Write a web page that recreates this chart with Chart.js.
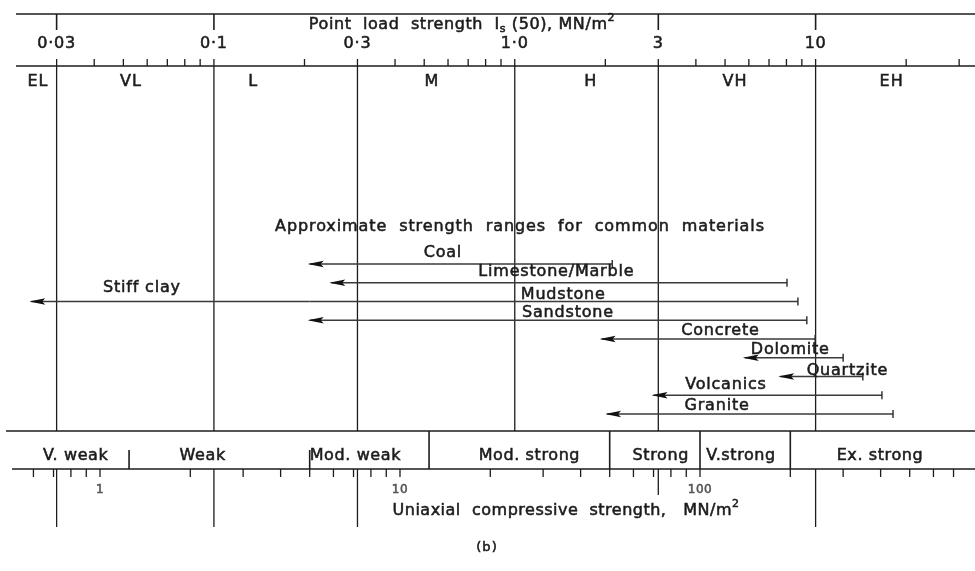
<!DOCTYPE html>
<html><head><meta charset="utf-8">
<script src="https://cdn.jsdelivr.net/npm/chart.js@4/dist/chart.umd.min.js"></script>
<style>html,body{margin:0;padding:0;background:#fff}</style>
</head><body>
<canvas id="c" width="975" height="571"></canvas>
<script>
// ---------- DATA ----------
const pointLoadTicks = [0.03, 0.1, 0.3, 1, 3, 10];
const pointLoadTickLabels = ['0·03', '0·1', '0·3', '1·0', '3', '10'];
const pointLoadMinorTicks = [0.04, 0.05, 0.06, 0.07, 0.08, 0.09, 0.2, 0.4, 0.5, 0.6, 0.7, 0.8, 0.9, 2, 4, 5, 6, 7, 8, 9, 20, 30];
const pointLoadClasses = ['EL', 'VL', 'L', 'M', 'H', 'VH', 'EH'];

const ucsTicks = [1, 10, 100];
const ucsTickLabels = ['1', '10', '100'];
const ucsMinorTicks = [0.6, 0.7, 0.8, 0.9, 2, 3, 4, 5, 6, 7, 8, 9, 20, 30, 40, 50, 60, 70, 80, 90, 200, 300, 400, 500, 600, 700];
const strengthClasses = ['V. weak', 'Weak', 'Mod. weak', 'Mod. strong', 'Strong', 'V.strong', 'Ex. strong'];
const strengthBounds = [1.25, 5, 12.5, 50, 100, 200];

const materials = ['Coal', 'Limestone/Marble', 'Stiff clay', 'Mudstone', 'Sandstone', 'Concrete', 'Dolomite', 'Quartzite', 'Volcanics', 'Granite'];
const materialRow = [0, 1, 2, 2, 3, 4, 5, 6, 7, 8];
const ucsLow  = [5.0, 5.9, 0.59, 5.0, 5.0, 47, 141, 185, 70, 49];
const ucsHigh = [51, 195, 5.0, 212, 227, 242, 300, 349, 404, 440];

// ---------- LAYOUT (annotation anchors, not data) ----------
const layout = {
  font: '"DejaVu Sans", sans-serif',
  ink: '#1c1c1c',
  topLineY: 14, baseY: 66, bandTopY: 431, bandBotY: 469,
  classLabelIs: [0.026, 0.053, 0.135, 0.53, 1.79, 5.4, 17.9],
  strengthLabelUcs: [0.83, 2.2, 7.1, 27, 74, 137, 398],
  materialLabelUcs: [13.9, 33.2, 1.38, 35, 36.3, 117, 200, 310, 122, 114],
  materialLabelLift: [11, 11, 14, 7, 7, 8, 8, 6, 10, 8],
  shortBounds: [1.25, 5],
  topStubs: [0.03, 0.1, 3, 10],
  longDrops: [0.03, 0.1, 0.3, 10],
  shortDrops: [3]
};

const datasets = materials.map((m, i) => ({
  label: m,
  data: [{x: ucsLow[i], y: materialRow[i]}, {x: ucsHigh[i], y: materialRow[i]}],
  xAxisID: 'ucs', yAxisID: 'row',
  showLine: true, borderColor: '#3a3a3a', borderWidth: 1.4,
  pointRadius: 0, pointHoverRadius: 0, fill: false
}));

function setFont(ctx, size, ls) {
  ctx.font = size + 'px ' + layout.font;
  ctx.letterSpacing = (ls === undefined ? 1.0 : ls) + 'px';
}
function paint(ctx, s, x, y) {
  ctx.fillText(s, x, y);
  ctx.save(); ctx.lineWidth = 0.55; ctx.strokeStyle = ctx.fillStyle; ctx.strokeText(s, x, y); ctx.restore();
}
function text(ctx, s, x, y, size, ls, align) {
  setFont(ctx, size, ls);
  ctx.textAlign = align || 'center';
  ctx.textBaseline = 'middle';
  paint(ctx, s, x, y);
}
function rich(ctx, segs, cx, cy, size, ls) {
  let total = 0;
  segs.forEach(s => { setFont(ctx, s.size || size, ls); s.w = ctx.measureText(s.t).width; total += s.w; });
  let x = cx - total / 2;
  ctx.textAlign = 'left'; ctx.textBaseline = 'middle';
  segs.forEach(s => { setFont(ctx, s.size || size, ls); paint(ctx, s.t, x, cy + (s.dy || 0)); x += s.w; });
}
function vline(ctx, x, y0, y1) { ctx.beginPath(); ctx.moveTo(x, y0); ctx.lineTo(x, y1); ctx.stroke(); }
function hline(ctx, y, x0, x1) { ctx.beginPath(); ctx.moveTo(x0, y); ctx.lineTo(x1, y); ctx.stroke(); }

const framePlugin = {
  id: 'frame',
  beforeDatasetsDraw(chart) {
    const ctx = chart.ctx, I = chart.scales.is, U = chart.scales.ucs, W = chart.width;
    const L = layout;
    ctx.save();
    ctx.strokeStyle = L.ink; ctx.fillStyle = L.ink; ctx.lineWidth = 1.6;
    // main horizontal rules
    hline(ctx, L.topLineY, 16, W);
    hline(ctx, L.baseY, 16, W);
    hline(ctx, L.bandTopY, 6, W);
    hline(ctx, L.bandBotY, 12, W);
    // top axis
    L.topStubs.forEach(v => vline(ctx, I.getPixelForValue(v), L.topLineY, L.topLineY + 16));
    ctx.lineWidth = 1.3;
    pointLoadTicks.concat(pointLoadMinorTicks).forEach(v => vline(ctx, I.getPixelForValue(v), L.baseY - 7, L.baseY));
    pointLoadTicks.forEach(v => vline(ctx, I.getPixelForValue(v), L.baseY, L.bandTopY));
    L.longDrops.forEach(v => vline(ctx, I.getPixelForValue(v), L.bandBotY, 527));
    L.shortDrops.forEach(v => vline(ctx, I.getPixelForValue(v), L.bandBotY, 495));
    pointLoadTicks.forEach((v, i) => text(ctx, pointLoadTickLabels[i], I.getPixelForValue(v), 44, 16, 0.8));
    pointLoadClasses.forEach((c, i) => text(ctx, c, I.getPixelForValue(L.classLabelIs[i]), 82, 16));
    rich(ctx, [
      {t: 'Point  load  strength  I'}, {t: 's', dy: 4, size: 11}, {t: ' (50), MN/m'}, {t: '2', dy: -7, size: 11}
    ], 462, 25, 16, 0.6);
    // strength band
    ctx.lineWidth = 1.6;
    strengthBounds.forEach(v => {
      const x = U.getPixelForValue(v);
      vline(ctx, x, L.shortBounds.includes(v) ? L.bandBotY - 19 : L.bandTopY, L.bandBotY);
    });
    strengthClasses.forEach((c, i) => text(ctx, c, U.getPixelForValue(L.strengthLabelUcs[i]), 456, 16, 0.6));
    ctx.lineWidth = 1.3;
    ucsTicks.concat(ucsMinorTicks).forEach(v => vline(ctx, U.getPixelForValue(v), L.bandBotY, L.bandBotY + 8));
    ctx.fillStyle = '#555';
    ucsTicks.forEach((v, i) => text(ctx, ucsTickLabels[i], U.getPixelForValue(v), 490, 12, 0.5));
    ctx.fillStyle = L.ink;
    rich(ctx, [{t: 'Uniaxial  compressive  strength,   MN/m'}, {t: '2', dy: -7, size: 11}], 566, 511, 16, 0.5);
    text(ctx, '(b)', 487, 548, 13, 1);
    text(ctx, 'Approximate  strength  ranges  for  common  materials', 520, 227, 16, 0.9);
    ctx.restore();
  },
  afterDatasetsDraw(chart) {
    const ctx = chart.ctx, L = layout, U = chart.scales.ucs, R = chart.scales.row;
    ctx.save();
    ctx.strokeStyle = '#2a2a2a'; ctx.lineWidth = 1.4;
    chart.data.datasets.forEach((ds, i) => {
      const meta = chart.getDatasetMeta(i);
      const p0 = meta.data[0], p1 = meta.data[1];
      const contLow = materials.some((m, j) => j !== i && materialRow[j] === materialRow[i] && ucsHigh[j] === ucsLow[i]);
      const contHigh = materials.some((m, j) => j !== i && materialRow[j] === materialRow[i] && ucsLow[j] === ucsHigh[i]);
      ctx.fillStyle = '#111';
      if (!contLow) {
        ctx.beginPath();
        ctx.moveTo(p0.x - 2, p0.y);
        ctx.lineTo(p0.x + 14, p0.y - 3.2);
        ctx.lineTo(p0.x + 11, p0.y);
        ctx.lineTo(p0.x + 14, p0.y + 3.2);
        ctx.closePath(); ctx.fill();
      }
      if (!contHigh) vline(ctx, p1.x, p1.y - 4, p1.y + 4);
      ctx.fillStyle = L.ink;
      text(ctx, materials[i], U.getPixelForValue(L.materialLabelUcs[i]), R.getPixelForValue(materialRow[i]) - L.materialLabelLift[i], 16, 0.8);
    });
    ctx.restore();
  }
};

new Chart(document.getElementById('c'), {
  type: 'scatter',
  data: {datasets},
  options: {
    responsive: false, animation: false, devicePixelRatio: 1,
    layout: {padding: 0},
    plugins: {legend: {display: false}, tooltip: {enabled: false}},
    events: [],
    scales: {
      is:  {type: 'logarithmic', axis: 'x', position: 'top', min: 0.01945, max: 33.87, display: false},
      ucs: {type: 'logarithmic', axis: 'x', position: 'bottom', min: 0.4642, max: 825.4, display: false},
      row: {type: 'linear', axis: 'y', position: 'left', reverse: true, min: -14.08, max: 16.373, display: false}
    }
  },
  plugins: [framePlugin]
});
</script>
</body></html>
